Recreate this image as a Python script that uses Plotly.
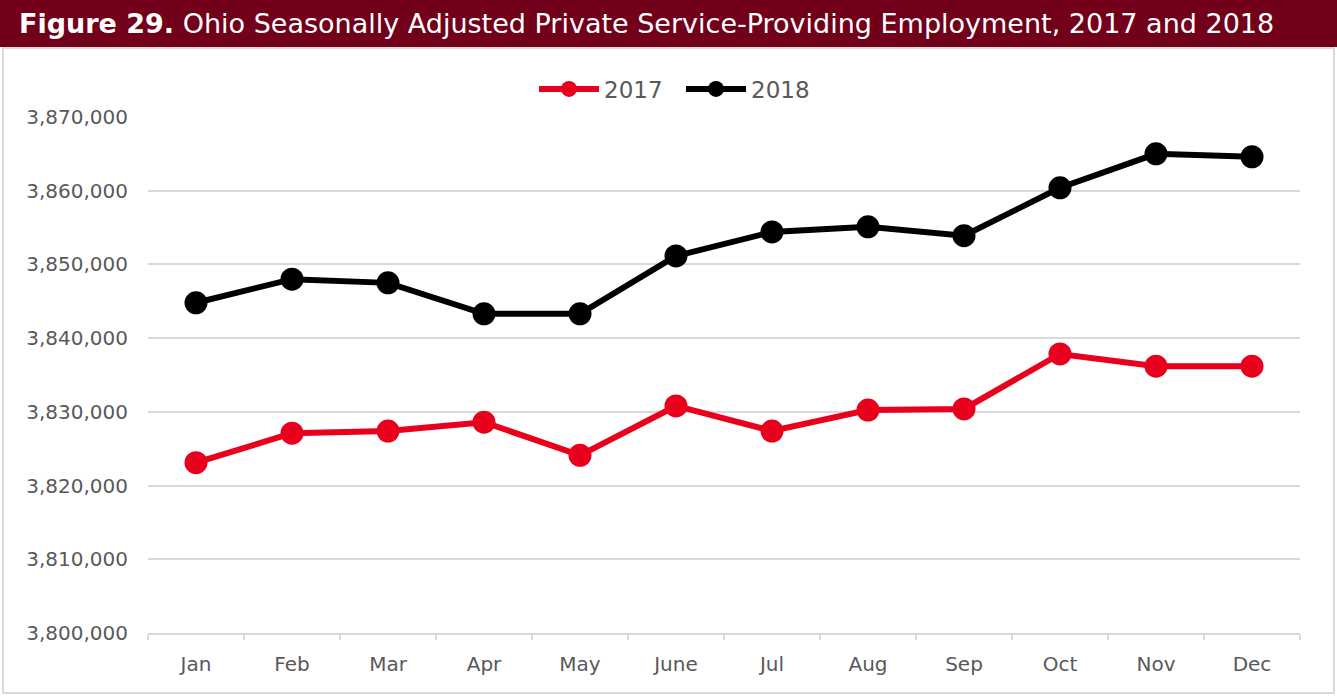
import plotly.graph_objects as go

months = ["Jan", "Feb", "Mar", "Apr", "May", "June", "Jul", "Aug", "Sep", "Oct", "Nov", "Dec"]
emp_2017 = [3823100, 3827100, 3827400, 3828600, 3824100, 3830800, 3827400, 3830250, 3830400, 3837850, 3836200, 3836200]
emp_2018 = [3844800, 3848000, 3847500, 3843300, 3843300, 3851150, 3854400, 3855100, 3853900, 3860400, 3865000, 3864600]
y_ticks = [3800000, 3810000, 3820000, 3830000, 3840000, 3850000, 3860000, 3870000]

W, H = 1337, 696
L, R, T, B = 148, 37, 117, 63
pw, ph = W - L - R, H - T - B

def px(x):
    return (x - L) / pw

def py(y):
    return 1 - (y - T) / ph

FONT = "DejaVu Sans"
GRAY = "#595959"
GRID = "#d9d9d9"

fig = go.Figure()
fig.add_trace(go.Scatter(x=months, y=emp_2017, name="2017", mode="lines+markers",
                         line=dict(color="#E8001C", width=6),
                         marker=dict(color="#E8001C", size=23)))
fig.add_trace(go.Scatter(x=months, y=emp_2018, name="2018", mode="lines+markers",
                         line=dict(color="#000000", width=6),
                         marker=dict(color="#000000", size=23)))

fig.update_layout(
    width=W, height=H,
    margin=dict(l=L, r=R, t=T, b=B),
    paper_bgcolor="white", plot_bgcolor="white",
    font=dict(family=FONT, color=GRAY),
    showlegend=True,
    legend=dict(orientation="h", x=px(534), xanchor="left", y=py(89), yanchor="middle",
                font=dict(size=23, color=GRAY), itemwidth=60, entrywidth=72,
                tracegroupgap=0),
    xaxis=dict(type="category", showgrid=False, showline=True, linecolor=GRID, linewidth=2,
               ticks="outside", tickson="boundaries", ticklen=5, tickwidth=2, tickcolor=GRID,
               tickfont=dict(size=20, color=GRAY), ticklabelstandoff=12,
               range=[-0.5, 11.5], fixedrange=True),
    xaxis2=dict(overlaying="x", anchor="y", side="bottom", range=[-0.5, 11.5],
                tickmode="linear", tick0=-0.5, dtick=1, ticks="inside", ticklen=5,
                tickwidth=2, tickcolor=GRID, showticklabels=False, showgrid=False,
                showline=False, zeroline=False),
    yaxis=dict(range=[3800000, 3870000], tickvals=y_ticks, tickformat=",d",
               showgrid=True, gridcolor=GRID, gridwidth=2, zeroline=False,
               showline=False, ticks="", tickfont=dict(size=20, color=GRAY),
               ticklabelstandoff=19),
)

# title bar
fig.add_shape(type="rect", xref="paper", yref="paper",
              x0=px(0), x1=px(W), y0=py(47), y1=py(0),
              fillcolor="#72001A", line=dict(width=0), layer="below")
# border frame
fig.add_shape(type="rect", xref="paper", yref="paper",
              x0=px(3), x1=px(1334), y0=py(693), y1=py(48),
              fillcolor="rgba(0,0,0,0)", line=dict(color=GRID, width=2), layer="below")

fig.add_annotation(xref="paper", yref="paper", x=px(17), y=py(23), xanchor="left", yanchor="middle",
                   showarrow=False,
                   text="<b>Figure 29.</b> Ohio Seasonally Adjusted Private Service-Providing Employment, 2017 and 2018",
                   font=dict(family=FONT, size=27, color="white"))

fig.write_html("out.html", config={"displayModeBar": False},
               post_script="document.body.style.margin='0';document.body.style.overflow='hidden';")
